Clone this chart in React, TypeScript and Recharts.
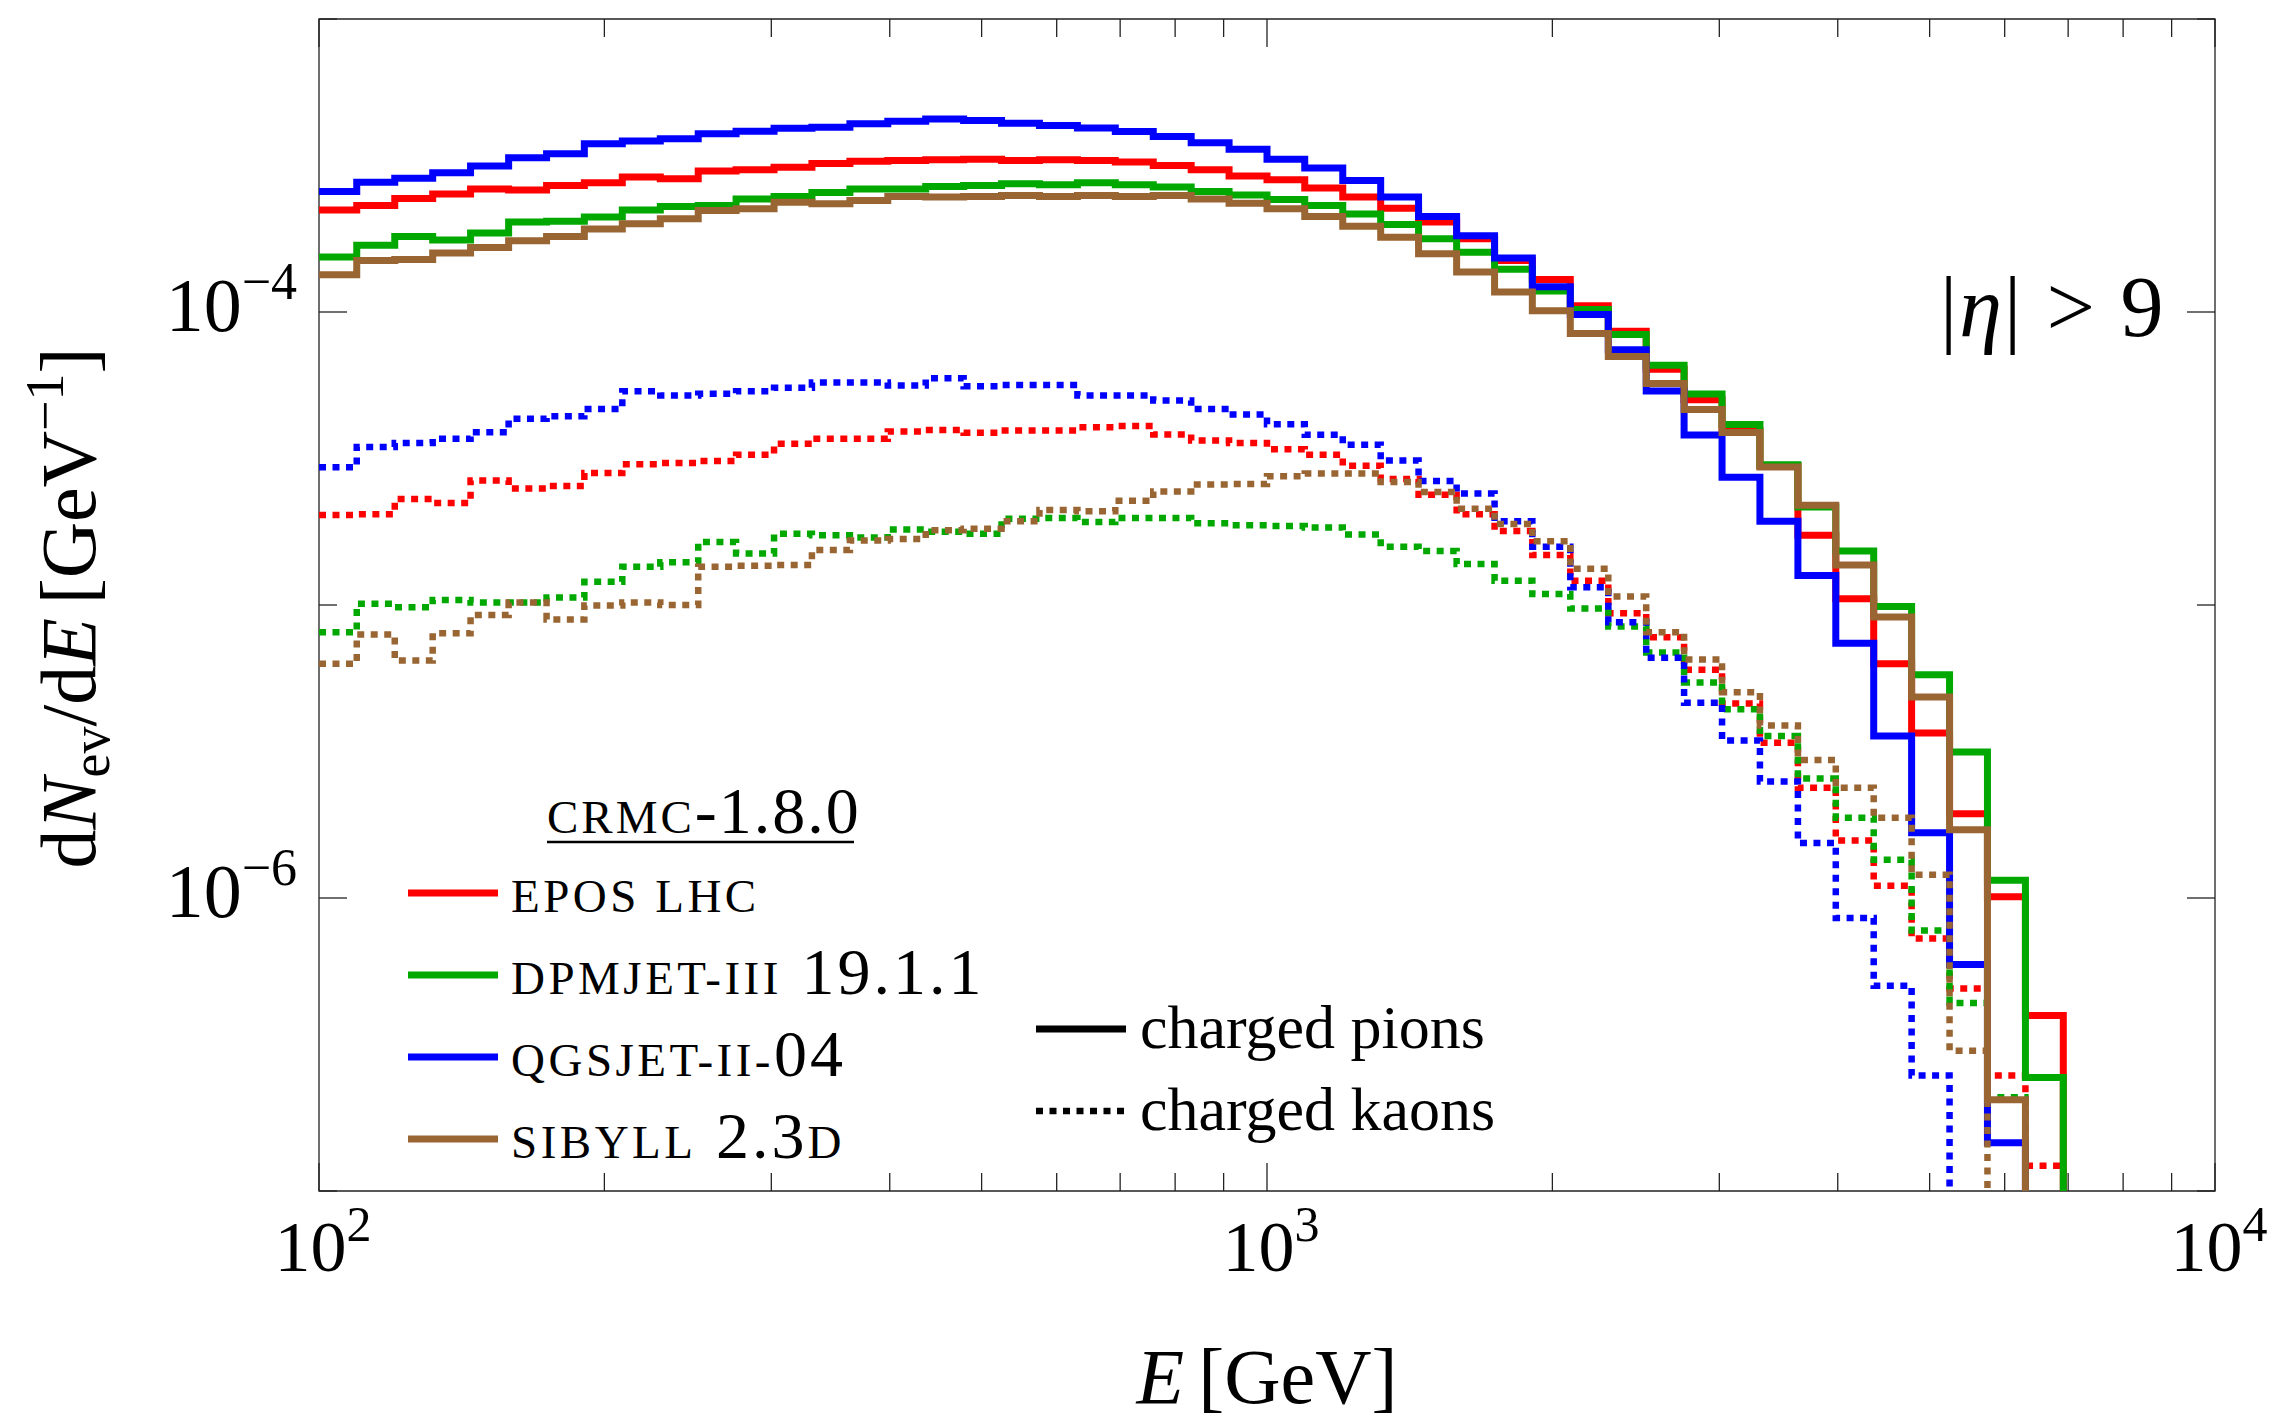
import { LineChart, Line, XAxis, YAxis, ReferenceArea } from 'recharts'

// log-spaced energy bins, 25 per decade (lower edges, GeV)
const EDGES = [
  100, 109.6, 120.2, 131.8, 144.5, 158.5, 173.8, 190.5, 208.9, 229.1,
  251.2, 275.4, 302.0, 331.1, 363.1, 398.1, 436.5, 478.6, 524.8, 575.4,
  631.0, 691.8, 758.6, 831.8, 912.0, 1000, 1096, 1202, 1318, 1445,
  1585, 1738, 1905, 2089, 2291, 2512, 2754, 3020, 3311, 3631,
  3981, 4365, 4786, 5248, 5754, 6310, 6918,
]

// dN/dE per bin, charged pions
const EPOS_PI = [
  2.23e-4, 2.31e-4, 2.44e-4, 2.53e-4, 2.63e-4, 2.61e-4, 2.7e-4, 2.76e-4, 2.89e-4, 2.85e-4,
  3.03e-4, 3.06e-4, 3.12e-4, 3.21e-4, 3.27e-4, 3.29e-4, 3.31e-4, 3.32e-4, 3.29e-4, 3.31e-4,
  3.29e-4, 3.25e-4, 3.16e-4, 3.06e-4, 2.91e-4, 2.83e-4, 2.65e-4, 2.47e-4, 2.26e-4, 2.03e-4,
  1.78e-4, 1.5e-4, 1.29e-4, 1.05e-4, 8.6e-5, 6.38e-5, 5.02e-5, 3.94e-5, 2.98e-5, 1.73e-5,
  1.05e-5, 6.3e-6, 3.66e-6, 1.94e-6, 1.01e-6, 3.97e-7,
]
const DPMJET_PI = [
  1.54e-4, 1.69e-4, 1.81e-4, 1.76e-4, 1.86e-4, 2.03e-4, 2.04e-4, 2.11e-4, 2.23e-4, 2.29e-4,
  2.31e-4, 2.43e-4, 2.48e-4, 2.56e-4, 2.63e-4, 2.63e-4, 2.68e-4, 2.7e-4, 2.74e-4, 2.72e-4,
  2.76e-4, 2.72e-4, 2.67e-4, 2.58e-4, 2.51e-4, 2.42e-4, 2.31e-4, 2.16e-4, 1.99e-4, 1.78e-4,
  1.6e-4, 1.4e-4, 1.18e-4, 1.02e-4, 8.38e-5, 6.58e-5, 5.25e-5, 4.13e-5, 3.01e-5, 2.16e-5,
  1.53e-5, 9.88e-6, 5.78e-6, 3.15e-6, 1.15e-6, 2.44e-7,
]
const QGSJET_PI = [
  2.58e-4, 2.77e-4, 2.86e-4, 2.99e-4, 3.15e-4, 3.36e-4, 3.47e-4, 3.75e-4, 3.83e-4, 3.9e-4,
  4.06e-4, 4.14e-4, 4.24e-4, 4.27e-4, 4.39e-4, 4.48e-4, 4.56e-4, 4.5e-4, 4.41e-4, 4.33e-4,
  4.25e-4, 4.13e-4, 3.97e-4, 3.78e-4, 3.59e-4, 3.32e-4, 3.1e-4, 2.81e-4, 2.47e-4, 2.12e-4,
  1.82e-4, 1.53e-4, 1.22e-4, 9.8e-5, 7.43e-5, 5.38e-5, 3.8e-5, 2.73e-5, 1.93e-5, 1.26e-5,
  7.4e-6, 3.57e-6, 1.67e-6, 5.93e-7, 1.46e-7,
]
const SIBYLL_PI = [
  1.34e-4, 1.5e-4, 1.51e-4, 1.59e-4, 1.66e-4, 1.75e-4, 1.81e-4, 1.92e-4, 2.0e-4, 2.08e-4,
  2.22e-4, 2.25e-4, 2.37e-4, 2.34e-4, 2.4e-4, 2.48e-4, 2.47e-4, 2.48e-4, 2.5e-4, 2.48e-4,
  2.5e-4, 2.48e-4, 2.5e-4, 2.43e-4, 2.35e-4, 2.25e-4, 2.12e-4, 1.96e-4, 1.8e-4, 1.58e-4,
  1.37e-4, 1.17e-4, 1.01e-4, 8.45e-5, 7.05e-5, 5.7e-5, 4.65e-5, 3.88e-5, 2.96e-5, 2.19e-5,
  1.37e-5, 9.1e-6, 4.85e-6, 1.71e-6, 2.05e-7,
]

// dN/dE per bin, charged kaons
const EPOS_K = [
  2.03e-5, 2.04e-5, 2.3e-5, 2.23e-5, 2.66e-5, 2.5e-5, 2.55e-5, 2.82e-5, 3.02e-5, 3.05e-5,
  3.1e-5, 3.26e-5, 3.55e-5, 3.69e-5, 3.69e-5, 3.91e-5, 3.96e-5, 3.87e-5, 3.94e-5, 3.94e-5,
  4.04e-5, 4.08e-5, 3.82e-5, 3.64e-5, 3.57e-5, 3.4e-5, 3.26e-5, 2.99e-5, 2.69e-5, 2.38e-5,
  2.04e-5, 1.79e-5, 1.48e-5, 1.21e-5, 9.38e-6, 7.76e-6, 6.01e-6, 4.61e-6, 3.39e-6, 2.38e-6,
  1.57e-6, 1.1e-6, 7.27e-7, 4.91e-7, 2.48e-7, 1.22e-7,
]
const DPMJET_K = [
  8.07e-6, 1.01e-5, 9.83e-6, 1.04e-5, 1.02e-5, 1.02e-5, 1.06e-5, 1.2e-5, 1.35e-5, 1.4e-5,
  1.64e-5, 1.5e-5, 1.75e-5, 1.73e-5, 1.7e-5, 1.81e-5, 1.78e-5, 1.75e-5, 1.97e-5, 1.98e-5,
  1.92e-5, 1.98e-5, 1.98e-5, 1.9e-5, 1.87e-5, 1.86e-5, 1.84e-5, 1.74e-5, 1.58e-5, 1.53e-5,
  1.38e-5, 1.21e-5, 1.09e-5, 9.72e-6, 8.45e-6, 6.88e-6, 5.44e-6, 4.41e-6, 3.57e-6, 2.56e-6,
  1.88e-6, 1.35e-6, 7.74e-7, 4.38e-7, 2.09e-7,
]
const QGSJET_K = [
  2.95e-5, 3.46e-5, 3.57e-5, 3.69e-5, 3.89e-5, 4.32e-5, 4.41e-5, 4.67e-5, 5.36e-5, 5.19e-5,
  5.26e-5, 5.36e-5, 5.51e-5, 5.75e-5, 5.75e-5, 5.61e-5, 5.94e-5, 5.58e-5, 5.64e-5, 5.64e-5,
  5.19e-5, 5.19e-5, 4.99e-5, 4.67e-5, 4.47e-5, 4.14e-5, 3.81e-5, 3.52e-5, 3.11e-5, 2.65e-5,
  2.4e-5, 1.93e-5, 1.58e-5, 1.15e-5, 8.74e-6, 6.6e-6, 4.64e-6, 3.45e-6, 2.5e-6, 1.54e-6,
  8.55e-7, 5.02e-7, 2.48e-7,
]
const SIBYLL_K = [
  6.3e-6, 7.93e-6, 6.47e-6, 8.01e-6, 9.25e-6, 1.02e-5, 8.92e-6, 9.96e-6, 1.02e-5, 1.0e-5,
  1.35e-5, 1.36e-5, 1.37e-5, 1.54e-5, 1.66e-5, 1.68e-5, 1.8e-5, 1.82e-5, 1.93e-5, 2.11e-5,
  2.09e-5, 2.27e-5, 2.44e-5, 2.58e-5, 2.59e-5, 2.75e-5, 2.81e-5, 2.81e-5, 2.63e-5, 2.43e-5,
  2.13e-5, 1.89e-5, 1.65e-5, 1.33e-5, 1.07e-5, 8.07e-6, 6.52e-6, 5.04e-6, 3.88e-6, 2.96e-6,
  2.38e-6, 1.88e-6, 1.2e-6, 3.01e-7,
]

const X_TICKS = [
  100, 200, 300, 400, 500, 600, 700, 800, 900,
  1000, 2000, 3000, 4000, 5000, 6000, 7000, 8000, 9000, 10000,
]
const X_LABELED = [100, 1000, 10000]
const Y_TICKS = [1e-7, 1e-6, 1e-5, 1e-4, 1e-3]
const Y_LABELED = [1e-6, 1e-4]

const RED = '#ff0000'
const GREEN = '#00a800'
const BLUE = '#0000ff'
const BROWN = '#996633'
const INK = '#222'
const FONT = '"Liberation Serif", "Times New Roman", serif'

const W = 2270
const H = 1421
const PLOT = { left: 319, right: 2215, top: 19, bottom: 1191 }

const MAJOR = 28
const MINOR = 18
const DOTS = '7 6.5'
// value used to draw the drop after a histogram's last filled bin
const FLOOR = 1e-9

const SERIES = [
  { key: 'eposPi', values: EPOS_PI, color: RED, dotted: false },
  { key: 'eposK', values: EPOS_K, color: RED, dotted: true },
  { key: 'dpmjetPi', values: DPMJET_PI, color: GREEN, dotted: false },
  { key: 'dpmjetK', values: DPMJET_K, color: GREEN, dotted: true },
  { key: 'qgsjetPi', values: QGSJET_PI, color: BLUE, dotted: false },
  { key: 'qgsjetK', values: QGSJET_K, color: BLUE, dotted: true },
  { key: 'sibyllPi', values: SIBYLL_PI, color: BROWN, dotted: false },
  { key: 'sibyllK', values: SIBYLL_K, color: BROWN, dotted: true },
]

const rows = EDGES.map((E, k) => {
  const row: Record<string, number | null> = { E }
  for (const s of SERIES) {
    row[s.key] = k < s.values.length ? s.values[k] : k === s.values.length ? FLOOR : null
  }
  return row
})

const exponent = (v: number) => Math.round(Math.log10(v)).toString().replace('-', '\u2212')

function XTick({ x, payload }: any) {
  const v = payload.value
  const len = X_LABELED.includes(v) ? MAJOR : MINOR
  return (
    <g>
      <line x1={x} x2={x} y1={PLOT.bottom} y2={PLOT.bottom - len} stroke={INK} strokeWidth={1.3} />
      <line x1={x} x2={x} y1={PLOT.top} y2={PLOT.top + len} stroke={INK} strokeWidth={1.3} />
      {X_LABELED.includes(v) && (
        <text x={x + 4} y={PLOT.bottom + 80} textAnchor="middle" fontFamily={FONT} fontSize={72} fill="#000">
          10
          <tspan dy={-30} fontSize={50}>{exponent(v)}</tspan>
        </text>
      )}
    </g>
  )
}

function YTick({ y, payload }: any) {
  const v = payload.value
  const len = Y_LABELED.includes(v) ? MAJOR : MINOR
  return (
    <g>
      <line x1={PLOT.left} x2={PLOT.left + len} y1={y} y2={y} stroke={INK} strokeWidth={1.3} />
      <line x1={PLOT.right} x2={PLOT.right - len} y1={y} y2={y} stroke={INK} strokeWidth={1.3} />
      {Y_LABELED.includes(v) && (
        <text x={PLOT.left - 22} y={y + 19} textAnchor="end" fontFamily={FONT} fontSize={76} fill="#000">
          10
          <tspan dy={-32} fontSize={52}>{exponent(v)}</tspan>
        </text>
      )}
    </g>
  )
}

const MODELS = [
  { color: RED, parts: [{ t: 'EPOS LHC', sc: true }] },
  { color: GREEN, parts: [{ t: 'DPMJET-III', sc: true }, { t: ' 19.1.1', sc: false }] },
  { color: BLUE, parts: [{ t: 'QGSJET-II-', sc: true }, { t: '04', sc: false }] },
  { color: BROWN, parts: [{ t: 'SIBYLL', sc: true }, { t: ' 2.3', sc: false }, { t: 'D', sc: true }] },
]

function Annotations() {
  return (
    <svg width={W} height={H} style={{ position: 'absolute', left: 0, top: 0, pointerEvents: 'none' }}>
      <g fontFamily={FONT} fill="#000">
        {/* y-axis title */}
        <text transform="rotate(-90)" x={-608} y={95} textAnchor="middle" fontSize={78}>
          d<tspan fontStyle="italic">N</tspan>
          <tspan fontSize={54} dy={14}>ev</tspan>
          <tspan dy={-14}>/d</tspan>
          <tspan fontStyle="italic">E</tspan>
          <tspan dx={14}>[GeV</tspan>
          <tspan fontSize={54} dy={-32}>{'\u22121'}</tspan>
          <tspan dy={32}>]</tspan>
        </text>

        {/* x-axis title */}
        <text x={1267} y={1403} textAnchor="middle" fontSize={78}>
          <tspan fontStyle="italic">E</tspan>
          <tspan dx={14}>[GeV]</tspan>
        </text>

        {/* pseudorapidity cut */}
        <text x={1940} y={336} fontSize={86} letterSpacing={2}>
          |<tspan fontStyle="italic">η</tspan>| &gt; 9
        </text>

        {/* model legend */}
        <text x={547} y={833}>
          <tspan fontSize={47} letterSpacing={3}>CRMC</tspan>
          <tspan fontSize={66} letterSpacing={2}>-1.8.0</tspan>
        </text>
        <line x1={547} x2={854} y1={842} y2={842} stroke="#000" strokeWidth={2.5} />
        {MODELS.map((m, i) => (
          <g key={i}>
            <line x1={408} x2={498} y1={893 + i * 82} y2={893 + i * 82} stroke={m.color} strokeWidth={7} />
            <text x={511} y={912 + i * 82}>
              {m.parts.map((p, j) => (
                <tspan key={j} fontSize={p.sc ? 47 : 66} letterSpacing={p.sc ? 3.5 : 3}>
                  {p.t}
                </tspan>
              ))}
            </text>
          </g>
        ))}

        {/* particle legend */}
        <line x1={1036} x2={1126} y1={1029} y2={1029} stroke="#000" strokeWidth={7} />
        <line x1={1036} x2={1126} y1={1111} y2={1111} stroke="#000" strokeWidth={6.5} strokeDasharray={DOTS} />
        <text x={1140} y={1048} fontSize={62}>charged pions</text>
        <text x={1140} y={1130} fontSize={62}>charged kaons</text>
      </g>
    </svg>
  )
}

export default function App() {
  return (
    <div style={{ position: 'absolute', left: 0, top: 0, width: W, height: H, background: '#fff' }}>
      <LineChart
        width={W}
        height={H}
        data={rows}
        margin={{ top: PLOT.top, right: W - PLOT.right, bottom: 0, left: 0 }}
      >
        <XAxis
          dataKey="E"
          type="number"
          scale="log"
          domain={[100, 10000]}
          allowDataOverflow
          ticks={X_TICKS}
          interval={0}
          height={H - PLOT.bottom}
          tick={<XTick />}
          tickLine={false}
          axisLine={false}
        />
        <YAxis
          type="number"
          scale="log"
          domain={[1e-7, 1e-3]}
          allowDataOverflow
          ticks={Y_TICKS}
          interval={0}
          width={PLOT.left}
          tick={<YTick />}
          tickLine={false}
          axisLine={false}
        />
        <ReferenceArea x1={100} x2={10000} y1={1e-7} y2={1e-3} fill="none" stroke={INK} strokeWidth={1.3} />
        {SERIES.map((s) => (
          <Line
            key={s.key}
            dataKey={s.key}
            type="stepAfter"
            stroke={s.color}
            strokeWidth={s.dotted ? 6.5 : 7}
            strokeDasharray={s.dotted ? DOTS : undefined}
            dot={false}
            activeDot={false}
            connectNulls={false}
            isAnimationActive={false}
          />
        ))}
      </LineChart>
      <Annotations />
    </div>
  )
}
